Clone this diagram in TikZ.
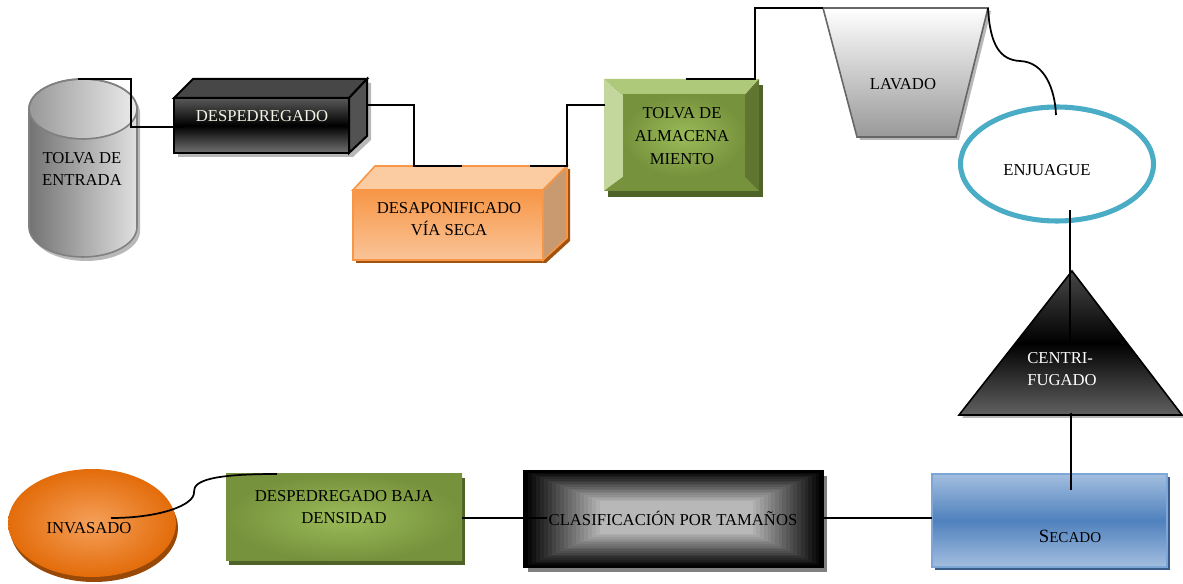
\documentclass[tikz,border=0pt]{standalone}
\usepackage{fontspec}
\setmainfont{Liberation Serif}
\definecolor{orfront}{HTML}{F79646}
\definecolor{orlight}{HTML}{FAC498}
\definecolor{ortop}{HTML}{FBCBA1}
\definecolor{orside}{HTML}{C99A70}
\definecolor{orshadow}{HTML}{A0520F}
\definecolor{gnlight}{HTML}{C3D69B}
\definecolor{gntop}{HTML}{AFC97A}
\definecolor{gndark}{HTML}{5F7530}
\definecolor{gnbot}{HTML}{76923C}
\definecolor{gnin}{HTML}{9BBB59}
\definecolor{gnout}{HTML}{76923C}
\definecolor{gnshadow}{HTML}{4F6228}
\definecolor{enjblue}{HTML}{4BACC6}
\definecolor{seclight}{HTML}{A3BEDF}
\definecolor{secmid}{HTML}{4F81BD}
\definecolor{secdraw}{HTML}{7EA6D6}
\definecolor{secshadow}{HTML}{385D8A}
\definecolor{invin}{HTML}{F5A05A}
\definecolor{invout}{HTML}{E36C0A}
\definecolor{invshadow}{HTML}{984807}
\definecolor{cream}{HTML}{F2F2E6}
\begin{document}
\begin{tikzpicture}[x=0.75pt,y=-0.75pt,
  conn/.style={draw=black,line width=1.3pt},
  lbl/.style={font=\fontsize{12.5}{17}\selectfont,align=center,inner sep=0pt},
  lblw/.style={lbl,text=white},
  shadowgray/.style={fill=black!28}]
\useasboundingbox (0,0) rectangle (1183,584);

% ---------- TOLVA DE ENTRADA (cylinder)
\fill[shadowgray] (32,113) -- (32,231) arc[start angle=180,end angle=0,x radius=54,y radius=30]
  -- (140,113) arc[start angle=0,end angle=-180,x radius=54,y radius=30] -- cycle;
\shade[left color=black!55,right color=black!12,draw=black!50,line width=1.2pt]
  (29,109) -- (29,227) arc[start angle=180,end angle=0,x radius=54,y radius=30]
  -- (137,109) arc[start angle=0,end angle=-180,x radius=54,y radius=30] -- cycle;
\shade[left color=black!40,right color=black!8]
  (83,109) ellipse[x radius=53,y radius=29];
\draw[draw=black!50,line width=1.2pt] (83,109) ellipse[x radius=54,y radius=30];
\node[lbl] (tolva) at (82,169) {TOLVA DE\\ENTRADA};

% ---------- DESPEDREGADO (dark 3D box)
\fill[shadowgray] (178,102) -- (197,83) -- (371,83) -- (371,140) -- (353,157) -- (178,157) -- cycle;
\shade[top color=black!65,bottom color=black!55,middle color=black,draw=black,line width=1.5pt]
  (174,98) rectangle (349,153);
\filldraw[fill=black!72,draw=black,line width=1.5pt] (174,98) -- (193,79) -- (367,79) -- (349,98) -- cycle;
\filldraw[fill=black!68,draw=black,line width=1.5pt] (349,98) -- (367,79) -- (367,136) -- (349,153) -- cycle;
\node[lbl,text=cream] (desp) at (262,116) {DESPEDREGADO};

% ---------- DESAPONIFICADO VIA SECA (orange 3D box)
\fill[orshadow] (356,193) -- (378,169) -- (570,169) -- (570,241) -- (546,263) -- (356,263) -- cycle;
\shade[top color=orfront,bottom color=orlight,draw=orfront,line width=1.2pt]
  (353,190) rectangle (543,260);
\filldraw[fill=ortop,draw=orfront,line width=1.2pt] (353,190) -- (375,166) -- (567,166) -- (543,190) -- cycle;
\filldraw[fill=orside,draw=orfront,line width=1.2pt] (543,190) -- (567,166) -- (567,238) -- (543,260) -- cycle;
\node[lbl] (desap) at (449,219) {DESAPONIFICADO\\VÍA SECA};

% ---------- TOLVA DE ALMACENAMIENTO (bevel box)
\fill[gnshadow] (608,85) rectangle (763,197);
\fill[gnlight] (604,79) -- (623,95) -- (623,177) -- (604,191) -- cycle;
\fill[gntop] (604,79) -- (759,79) -- (745,95) -- (623,95) -- cycle;
\fill[gndark] (759,79) -- (759,191) -- (745,177) -- (745,95) -- cycle;
\fill[gnbot] (604,191) -- (759,191) -- (745,177) -- (623,177) -- cycle;
\shade[inner color=gnin,outer color=gnout] (623,95) rectangle (745,177);
\node[lbl] (alm) at (682,136) {TOLVA DE\\ALMACENA\\MIENTO};

% ---------- LAVADO (trapezoid)
\fill[shadowgray] (826,11) -- (991,11) -- (959,140) -- (860,140) -- cycle;
\shade[top color=white,bottom color=black!40,draw=black!60,line width=1.2pt]
  (823,8) -- (988,8) -- (956,137) -- (857,137) -- cycle;
\node[lbl] (lav) at (903,84) {LAVADO};

% ---------- ENJUAGUE (ellipse)
\filldraw[fill=white,draw=enjblue,line width=3.8pt] (1057,164) ellipse[x radius=96.5,y radius=57];
\node[lbl] (enj) at (1047,170) {ENJUAGUE};

% ---------- CENTRIFUGADO (triangle)
\fill[shadowgray] (1075,274) -- (1185,418) -- (962,418) -- cycle;
\shade[top color=black!72,bottom color=black!62,middle color=black,draw=black,line width=1.2pt]
  (1072,271) -- (1182,415) -- (959,415) -- cycle;
\node[lblw,anchor=west,align=left] (cen) at (1027,369) {CENTRI-\\FUGADO};

% ---------- SECADO
\fill[secshadow] (935,477) rectangle (1170,570);
\shade[top color=seclight,bottom color=seclight,middle color=secmid,draw=secdraw,line width=1pt]
  (932,474) rectangle (1167,567);
\node[inner sep=0pt] (sec) at (1070,536) {\fontsize{14}{17}\selectfont S\fontsize{11.3}{17}\selectfont ECADO};

% ---------- CLASIFICACION POR TAMANOS
\fill[black!50] (528,476) rectangle (827,572);
\foreach \i in {0,...,19} {
  \pgfmathsetmacro{\pc}{100-\i*3.8}
  \fill[black!\pc] (524+\i*4.0,471+\i*1.6) rectangle (823-\i*3.7,567-\i*1.75);
}
\draw[black,line width=1.6pt] (524,471) rectangle (823,567);
\node[lbl] (clas) at (673,518) {CLASIFICACIÓN POR TAMAÑOS};

% ---------- DESPEDREGADO BAJA DENSIDAD
\fill[gnshadow] (229,478) rectangle (465,565);
\shade[inner color=gnin,outer color=gnout] (226,474) rectangle (462,561);
\node[lbl] (dbd) at (344,507) {DESPEDREGADO BAJA\\DENSIDAD};

% ---------- INVASADO
\fill[invshadow] (94,528) ellipse[x radius=84,y radius=54];
\shade[inner color=invin,outer color=invout] (92,523) ellipse[x radius=84,y radius=54];
\node[lbl] (inv) at (89,528) {INVASADO};

% ---------- connector end points
\coordinate (tolva-out) at (78,79);
\coordinate (desp-in) at (184,127);
\coordinate (desp-out) at (367,105);
\coordinate (desap-in) at (462,166);
\coordinate (desap-out) at (530,166);
\coordinate (alm-in) at (605,105);
\coordinate (alm-out) at (686,79);
\coordinate (lav-in) at (823,8);
\coordinate (lav-out) at (988,8);
\coordinate (enj-in) at (1056,115);
\coordinate (enj-out) at (1070,210);
\coordinate (cen-in) at (1070,345);
\coordinate (cen-out) at (1071,413);
\coordinate (sec-in) at (1071,490);
\coordinate (sec-w) at (932,518);
\coordinate (clas-e) at (823,518);
\coordinate (clas-w) at (547,518);
\coordinate (dbd-e) at (462,518);
\coordinate (dbd-n) at (277,474);
\coordinate (inv-in) at (111,518);

% ---------- connectors
\draw[conn] (tolva-out) -- (131,79) |- (desp-in);
\draw[conn] (desp-out) -- (414,105) |- (desap-in);
\draw[conn] (desap-out) -- (567,166) |- (alm-in);
\draw[conn] (alm-out) -- (755,79) |- (lav-in);
\draw[conn] (lav-out) .. controls (990,45) and (1000,60) .. (1020,61)
  .. controls (1045,62) and (1055,90) .. (enj-in);
\draw[conn] (enj-out) -- (cen-in);
\draw[conn] (cen-out) -- (sec-in);
\draw[conn] (clas-e) -- (sec-w);
\draw[conn] (dbd-e) -- (clas-w);
\draw[conn] (dbd-n) .. controls (215,474) and (193,480) .. (194,492)
  .. controls (195,505) and (160,518) .. (inv-in);
\end{tikzpicture}
\end{document}
